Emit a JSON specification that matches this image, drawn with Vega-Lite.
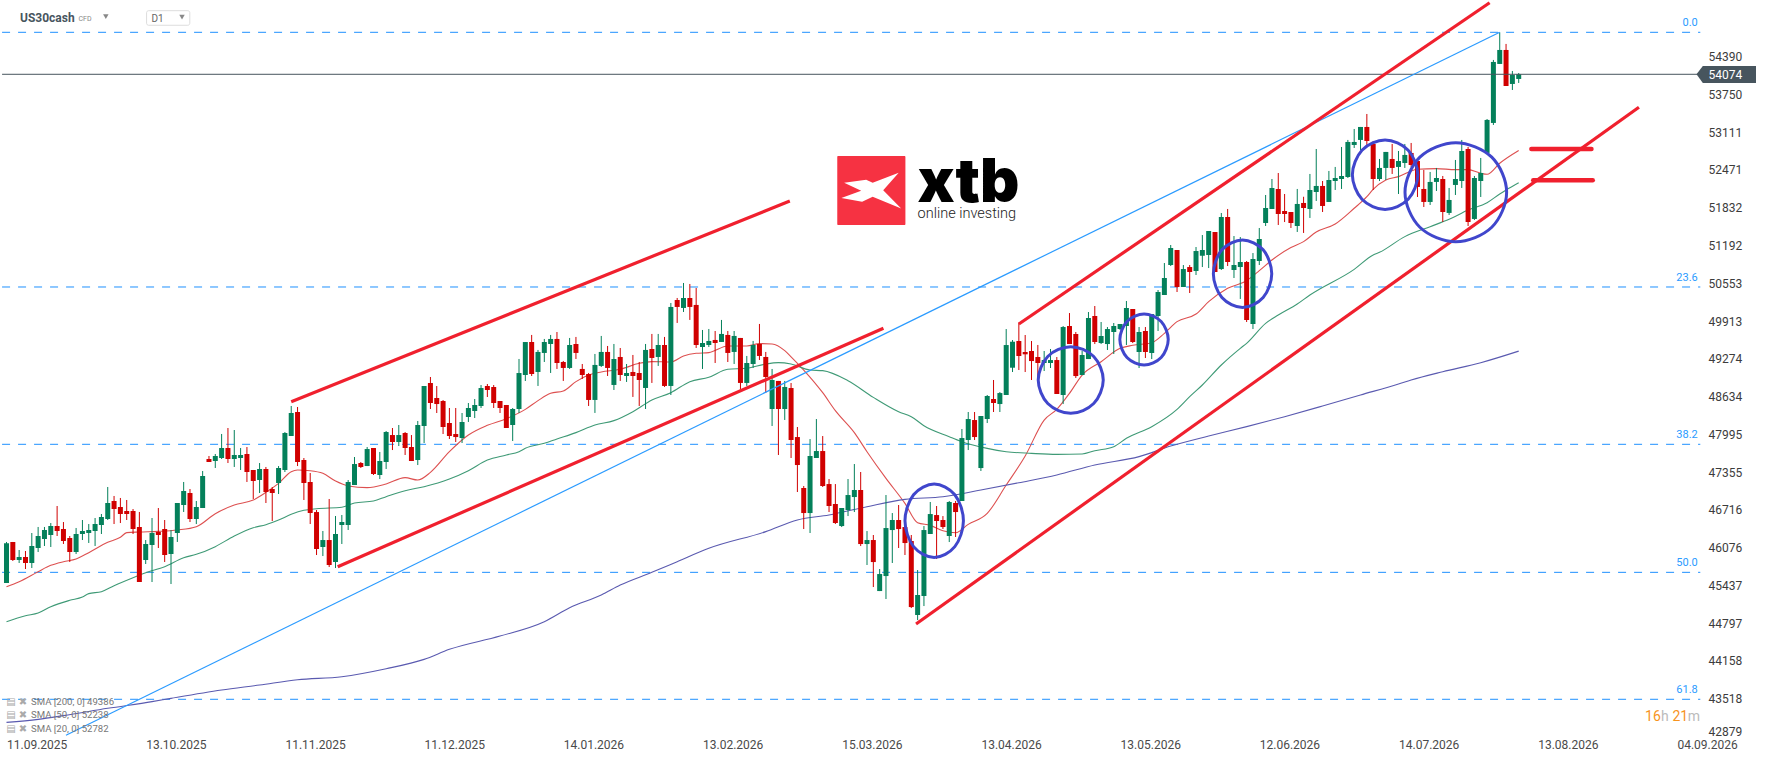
{
"$schema":"https://vega.github.io/schema/vega-lite/v6.json",
"width":1768,"height":761,"padding":0,"autosize":{"type":"none"},"background":"#ffffff",
"config":{"view":{"stroke":null},"font":"Roboto","axis":{"grid":false,"domain":false,"ticks":false,"title":null}},
"datasets":{
"candles":[
{"bar":0,"open":45459,"high":46154,"low":45459,"close":46131},{"bar":1,"open":46154,"high":46154,"low":45832,"close":45849},{"bar":2,"open":45849,"high":46018,"low":45798,"close":45900},{"bar":3,"open":45900,"high":46001,"low":45696,"close":45798},{"bar":4,"open":45798,"high":46306,"low":45713,"close":46086},{"bar":5,"open":46052,"high":46408,"low":45984,"close":46255},{"bar":6,"open":46204,"high":46408,"low":46086,"close":46357},{"bar":7,"open":46272,"high":46475,"low":46069,"close":46425},{"bar":8,"open":46425,"high":46763,"low":46255,"close":46340},{"bar":9,"open":46374,"high":46492,"low":46120,"close":46171},
{"bar":10,"open":46221,"high":46255,"low":45815,"close":45984},{"bar":11,"open":45984,"high":46391,"low":45950,"close":46289},{"bar":12,"open":46289,"high":46526,"low":46187,"close":46340},{"bar":13,"open":46306,"high":46458,"low":46137,"close":46357},{"bar":14,"open":46340,"high":46560,"low":46086,"close":46458},{"bar":15,"open":46441,"high":46628,"low":46289,"close":46577},{"bar":16,"open":46543,"high":47085,"low":46526,"close":46814},{"bar":17,"open":46848,"high":46933,"low":46458,"close":46712},{"bar":18,"open":46746,"high":46899,"low":46475,"close":46628},{"bar":19,"open":46679,"high":46865,"low":46526,"close":46628},
{"bar":20,"open":46679,"high":46712,"low":46289,"close":46374},{"bar":21,"open":46408,"high":46662,"low":45476,"close":45476},{"bar":22,"open":45849,"high":46187,"low":45781,"close":46120},{"bar":23,"open":46103,"high":46560,"low":45476,"close":46306},{"bar":24,"open":46323,"high":46729,"low":46052,"close":46272},{"bar":25,"open":46374,"high":46526,"low":45815,"close":45933},{"bar":26,"open":45950,"high":46357,"low":45442,"close":46238},{"bar":27,"open":46306,"high":46814,"low":46154,"close":46814},{"bar":28,"open":46780,"high":47170,"low":46662,"close":47017},{"bar":29,"open":46983,"high":47051,"low":46492,"close":46543},
{"bar":30,"open":46543,"high":46848,"low":46458,"close":46746},{"bar":31,"open":46729,"high":47356,"low":46729,"close":47271},{"bar":32,"open":47559,"high":47610,"low":47508,"close":47508},{"bar":33,"open":47525,"high":47644,"low":47407,"close":47610},{"bar":34,"open":47576,"high":47983,"low":47559,"close":47745},{"bar":35,"open":47745,"high":48084,"low":47491,"close":47559},{"bar":36,"open":47559,"high":48050,"low":47424,"close":47627},{"bar":37,"open":47576,"high":47745,"low":47373,"close":47627},{"bar":38,"open":47644,"high":47762,"low":47170,"close":47339},{"bar":39,"open":47373,"high":47373,"low":46882,"close":47187},
{"bar":40,"open":47204,"high":47491,"low":46983,"close":47390},{"bar":41,"open":47390,"high":47424,"low":46814,"close":47000},{"bar":42,"open":47051,"high":47085,"low":46509,"close":46983},{"bar":43,"open":47153,"high":47440,"low":46966,"close":47407},{"bar":44,"open":47373,"high":48016,"low":47339,"close":47999},{"bar":45,"open":47949,"high":48457,"low":47949,"close":48338},{"bar":46,"open":48355,"high":48440,"low":47440,"close":47508},{"bar":47,"open":47542,"high":47576,"low":46865,"close":47153},{"bar":48,"open":47170,"high":47322,"low":46458,"close":46645},{"bar":49,"open":46661,"high":46695,"low":45933,"close":46035},
{"bar":50,"open":46069,"high":46340,"low":45916,"close":46187},{"bar":51,"open":46187,"high":46882,"low":45730,"close":45764},{"bar":52,"open":45815,"high":46594,"low":45713,"close":46289},{"bar":53,"open":46441,"high":46611,"low":46120,"close":46492},{"bar":54,"open":46441,"high":47203,"low":46357,"close":47170},{"bar":55,"open":47119,"high":47593,"low":47119,"close":47474},{"bar":56,"open":47491,"high":47508,"low":47407,"close":47424},{"bar":57,"open":47440,"high":47762,"low":47440,"close":47728},{"bar":58,"open":47745,"high":47745,"low":47288,"close":47305},{"bar":59,"open":47288,"high":47678,"low":47220,"close":47525},
{"bar":60,"open":47508,"high":48033,"low":47390,"close":48016},{"bar":61,"open":47965,"high":48084,"low":47711,"close":47847},{"bar":62,"open":47847,"high":48135,"low":47779,"close":47965},{"bar":63,"open":47999,"high":48016,"low":47627,"close":47745},{"bar":64,"open":47762,"high":47965,"low":47525,"close":47525},{"bar":65,"open":47542,"high":48203,"low":47457,"close":48135},{"bar":66,"open":48118,"high":48795,"low":47830,"close":48795},{"bar":67,"open":48846,"high":48948,"low":48406,"close":48507},{"bar":68,"open":48592,"high":48795,"low":48338,"close":48490},{"bar":69,"open":48541,"high":48558,"low":47982,"close":48101},
{"bar":70,"open":48169,"high":48423,"low":47898,"close":47949},{"bar":71,"open":47982,"high":48423,"low":47847,"close":47931},{"bar":72,"open":47915,"high":48338,"low":47830,"close":48186},{"bar":73,"open":48270,"high":48507,"low":48186,"close":48423},{"bar":74,"open":48372,"high":48575,"low":48253,"close":48474},{"bar":75,"open":48457,"high":48812,"low":48423,"close":48761},{"bar":76,"open":48795,"high":48829,"low":48609,"close":48728},{"bar":77,"open":48778,"high":48812,"low":48423,"close":48507},{"bar":78,"open":48541,"high":48541,"low":48338,"close":48423},{"bar":79,"open":48474,"high":48474,"low":48084,"close":48084},
{"bar":80,"open":48135,"high":48423,"low":47864,"close":48406},{"bar":81,"open":48406,"high":49253,"low":48338,"close":49015},{"bar":82,"open":48982,"high":49540,"low":48880,"close":49540},{"bar":83,"open":49541,"high":49660,"low":48965,"close":48999},{"bar":84,"open":49033,"high":49406,"low":48796,"close":49372},{"bar":85,"open":49355,"high":49592,"low":49202,"close":49541},{"bar":86,"open":49507,"high":49660,"low":49016,"close":49592},{"bar":87,"open":49592,"high":49710,"low":49084,"close":49185},{"bar":88,"open":49202,"high":49219,"low":48881,"close":49101},{"bar":89,"open":49101,"high":49609,"low":49084,"close":49490},
{"bar":90,"open":49507,"high":49626,"low":49253,"close":49355},{"bar":91,"open":49084,"high":49168,"low":48914,"close":48982},{"bar":92,"open":48999,"high":49016,"low":48457,"close":48559},{"bar":93,"open":48559,"high":49338,"low":48339,"close":49152},{"bar":94,"open":49135,"high":49643,"low":49118,"close":49372},{"bar":95,"open":49372,"high":49473,"low":48965,"close":49101},{"bar":96,"open":48813,"high":49507,"low":48728,"close":49253},{"bar":97,"open":49287,"high":49439,"low":48881,"close":48982},{"bar":98,"open":48965,"high":49168,"low":48864,"close":49016},{"bar":99,"open":49033,"high":49321,"low":48610,"close":48965},
{"bar":100,"open":49016,"high":49202,"low":48457,"close":48897},{"bar":101,"open":48762,"high":49507,"low":48406,"close":49406},{"bar":102,"open":49422,"high":49677,"low":48847,"close":49270},{"bar":103,"open":49287,"high":49677,"low":49135,"close":49490},{"bar":104,"open":49490,"high":49626,"low":48779,"close":48796},{"bar":105,"open":48796,"high":50201,"low":48643,"close":50134},{"bar":106,"open":50252,"high":50286,"low":49863,"close":50134},{"bar":107,"open":50117,"high":50540,"low":50049,"close":50286},{"bar":108,"open":50286,"high":50523,"low":49914,"close":50134},{"bar":109,"open":50168,"high":50455,"low":49439,"close":49490},
{"bar":110,"open":49456,"high":49744,"low":49084,"close":49524},{"bar":111,"open":49490,"high":49761,"low":49456,"close":49558},{"bar":112,"open":49575,"high":49727,"low":49185,"close":49524},{"bar":113,"open":49541,"high":49914,"low":49541,"close":49677},{"bar":114,"open":49660,"high":49727,"low":49202,"close":49355},{"bar":115,"open":49372,"high":49727,"low":49168,"close":49643},{"bar":116,"open":49609,"high":49609,"low":48745,"close":48847},{"bar":117,"open":48847,"high":49304,"low":48796,"close":49185},{"bar":118,"open":49168,"high":49558,"low":49101,"close":49490},{"bar":119,"open":49507,"high":49846,"low":49236,"close":49304},
{"bar":120,"open":49287,"high":49372,"low":48677,"close":48948},{"bar":121,"open":48406,"high":49084,"low":48118,"close":48897},{"bar":122,"open":48881,"high":48881,"low":47627,"close":48406},{"bar":123,"open":48406,"high":48881,"low":48220,"close":48779},{"bar":124,"open":48761,"high":48846,"low":47576,"close":47881},{"bar":125,"open":47931,"high":48101,"low":47000,"close":47457},{"bar":126,"open":47068,"high":47102,"low":46373,"close":46644},{"bar":127,"open":46644,"high":47897,"low":46306,"close":47610},{"bar":128,"open":47576,"high":48236,"low":47576,"close":47694},{"bar":129,"open":47694,"high":47948,"low":47085,"close":47102},
{"bar":130,"open":47135,"high":47220,"low":46661,"close":46763},{"bar":131,"open":46797,"high":47135,"low":46458,"close":46475},{"bar":132,"open":46424,"high":46729,"low":46407,"close":46729},{"bar":133,"open":46695,"high":47220,"low":46593,"close":46949},{"bar":134,"open":46915,"high":47474,"low":46661,"close":47034},{"bar":135,"open":47034,"high":47339,"low":46085,"close":46119},{"bar":136,"open":46119,"high":46339,"low":45764,"close":46187},{"bar":137,"open":46187,"high":46272,"low":45391,"close":45814},{"bar":138,"open":45323,"high":45696,"low":45323,"close":45611},{"bar":139,"open":45577,"high":46949,"low":45188,"close":46390},
{"bar":140,"open":46356,"high":46644,"low":45798,"close":46526},{"bar":141,"open":46526,"high":46780,"low":46052,"close":46373},{"bar":142,"open":46407,"high":46593,"low":45933,"close":46136},{"bar":143,"open":46170,"high":46272,"low":45035,"close":45052},{"bar":144,"open":44917,"high":45679,"low":44832,"close":45256},{"bar":145,"open":45239,"high":46424,"low":45069,"close":46356},{"bar":146,"open":46289,"high":46831,"low":46289,"close":46627},{"bar":147,"open":46610,"high":46763,"low":45865,"close":46509},{"bar":148,"open":46526,"high":46593,"low":46373,"close":46407},{"bar":149,"open":46255,"high":46848,"low":46153,"close":46831},
{"bar":150,"open":46814,"high":46848,"low":46238,"close":46661},{"bar":151,"open":46848,"high":48067,"low":46848,"close":47914},{"bar":152,"open":47881,"high":48355,"low":47711,"close":48236},{"bar":153,"open":48219,"high":48355,"low":47881,"close":47931},{"bar":154,"open":47406,"high":48287,"low":47356,"close":48287},{"bar":155,"open":48236,"high":48643,"low":48168,"close":48626},{"bar":156,"open":48575,"high":48897,"low":48355,"close":48507},{"bar":157,"open":48490,"high":48693,"low":48355,"close":48676},{"bar":158,"open":48643,"high":49760,"low":48643,"close":49489},{"bar":159,"open":49105,"high":49574,"low":49032,"close":49545},
{"bar":160,"open":49557,"high":49867,"low":49066,"close":49303},{"bar":161,"open":49371,"high":49659,"low":49032,"close":49332},{"bar":162,"open":49388,"high":49557,"low":48897,"close":49218},{"bar":163,"open":49286,"high":49490,"low":48897,"close":49185},{"bar":164,"open":49185,"high":49388,"low":49049,"close":49235},{"bar":165,"open":49185,"high":49422,"low":49100,"close":49235},{"bar":166,"open":49235,"high":49286,"low":48660,"close":48660},{"bar":167,"open":48643,"high":49811,"low":48490,"close":49794},{"bar":168,"open":49811,"high":50031,"low":49506,"close":49506},{"bar":169,"open":49676,"high":49710,"low":48931,"close":48964},
{"bar":170,"open":48981,"high":49388,"low":48981,"close":49320},{"bar":171,"open":49252,"high":50048,"low":49252,"close":49947},{"bar":172,"open":49981,"high":50150,"low":49506,"close":49540},{"bar":173,"open":49523,"high":49879,"low":49506,"close":49642},{"bar":174,"open":49506,"high":49794,"low":49405,"close":49760},{"bar":175,"open":49710,"high":49862,"low":49337,"close":49811},{"bar":176,"open":49760,"high":49845,"low":49743,"close":49845},{"bar":177,"open":49811,"high":50235,"low":49489,"close":50116},{"bar":178,"open":50099,"high":50099,"low":49523,"close":49540},{"bar":179,"open":49371,"high":49794,"low":49100,"close":49710},
{"bar":180,"open":49727,"high":49794,"low":49269,"close":49371},{"bar":181,"open":49354,"high":50014,"low":49252,"close":50014},{"bar":182,"open":49981,"high":50421,"low":49727,"close":50387},{"bar":183,"open":50336,"high":50878,"low":50336,"close":50624},{"bar":184,"open":50844,"high":51183,"low":50827,"close":51132},{"bar":185,"open":51098,"high":51098,"low":50387,"close":50472},{"bar":186,"open":50472,"high":50844,"low":50472,"close":50776},{"bar":187,"open":50810,"high":50844,"low":50370,"close":50726},{"bar":188,"open":50743,"high":51149,"low":50675,"close":51081},{"bar":189,"open":51001,"high":51352,"low":50810,"close":51098},
{"bar":190,"open":51014,"high":51420,"low":50793,"close":51420},{"bar":191,"open":51403,"high":51403,"low":50726,"close":50726},{"bar":192,"open":50776,"high":51725,"low":50760,"close":51657},{"bar":193,"open":51657,"high":51793,"low":50827,"close":50895},{"bar":194,"open":50760,"high":51335,"low":50624,"close":50844},{"bar":195,"open":50810,"high":51318,"low":50269,"close":50895},{"bar":196,"open":50895,"high":50912,"low":49879,"close":49913},{"bar":197,"open":49845,"high":51047,"low":49760,"close":50946},{"bar":198,"open":50912,"high":51471,"low":50844,"close":51285},{"bar":199,"open":51556,"high":52030,"low":51505,"close":51810},
{"bar":200,"open":51793,"high":52301,"low":51793,"close":52148},{"bar":201,"open":52131,"high":52402,"low":51522,"close":51708},{"bar":202,"open":51759,"high":52047,"low":51572,"close":51708},{"bar":203,"open":51742,"high":51742,"low":51471,"close":51556},{"bar":204,"open":51505,"high":52132,"low":51404,"close":51878},{"bar":205,"open":51895,"high":52000,"low":51387,"close":51810},{"bar":206,"open":51793,"high":52386,"low":51641,"close":52115},{"bar":207,"open":52081,"high":52809,"low":51929,"close":52183},{"bar":208,"open":52183,"high":52267,"low":51742,"close":51844},{"bar":209,"open":51912,"high":52437,"low":51912,"close":52284},
{"bar":210,"open":52267,"high":52505,"low":52115,"close":52318},{"bar":211,"open":52301,"high":52843,"low":52132,"close":52352},{"bar":212,"open":52335,"high":52962,"low":52318,"close":52928},{"bar":213,"open":52877,"high":53148,"low":52826,"close":52928},{"bar":214,"open":52962,"high":53182,"low":52792,"close":53182},{"bar":215,"open":53182,"high":53402,"low":52877,"close":52945},{"bar":216,"open":52894,"high":52945,"low":52115,"close":52301},{"bar":217,"open":52301,"high":52640,"low":52267,"close":52488},{"bar":218,"open":52488,"high":52759,"low":52284,"close":52759},{"bar":219,"open":52640,"high":52894,"low":52386,"close":52488},
{"bar":220,"open":52505,"high":52775,"low":52047,"close":52606},{"bar":221,"open":52572,"high":52894,"low":52488,"close":52708},{"bar":222,"open":52742,"high":52911,"low":52505,"close":52538},{"bar":223,"open":52606,"high":52623,"low":51996,"close":52166},{"bar":224,"open":52132,"high":52454,"low":51827,"close":51912},{"bar":225,"open":51912,"high":52420,"low":51861,"close":52251},{"bar":226,"open":52251,"high":52488,"low":52098,"close":52318},{"bar":227,"open":52301,"high":52352,"low":51573,"close":51742},{"bar":228,"open":51726,"high":52149,"low":51692,"close":51946},{"bar":229,"open":52200,"high":52623,"low":52030,"close":52301},
{"bar":230,"open":52267,"high":52962,"low":52149,"close":52775},{"bar":231,"open":52809,"high":52843,"low":51505,"close":51573},{"bar":232,"open":51624,"high":52352,"low":51607,"close":52318},{"bar":233,"open":52267,"high":52657,"low":51996,"close":52403},{"bar":234,"open":52742,"high":53317,"low":52742,"close":53301},{"bar":235,"open":53250,"high":54317,"low":53216,"close":54283},{"bar":236,"open":54249,"high":54785,"low":54249,"close":54486},{"bar":237,"open":54486,"high":54588,"low":53876,"close":53876},{"bar":238,"open":53910,"high":54130,"low":53808,"close":54063},{"bar":239,"open":53995,"high":54096,"low":53927,"close":54074}
],
"sma":[
{"series":"SMA20","bar":0,"price":45397},{"series":"SMA20","bar":2,"price":45482},{"series":"SMA20","bar":5,"price":45651},{"series":"SMA20","bar":7,"price":45758},{"series":"SMA20","bar":9,"price":45820},{"series":"SMA20","bar":11,"price":45866},{"series":"SMA20","bar":13,"price":45973},{"series":"SMA20","bar":16,"price":46148},{"series":"SMA20","bar":18,"price":46233},{"series":"SMA20","bar":19,"price":46312},{"series":"SMA20","bar":21,"price":46323},{"series":"SMA20","bar":24,"price":46334},{"series":"SMA20","bar":27,"price":46357},{"series":"SMA20","bar":30,"price":46413},{"series":"SMA20","bar":33,"price":46633},{"series":"SMA20","bar":36,"price":46780},{"series":"SMA20","bar":39,"price":46865},{"series":"SMA20","bar":41,"price":46995},{"series":"SMA20","bar":43,"price":47147},{"series":"SMA20","bar":45,"price":47345},{"series":"SMA20","bar":46,"price":47373},{"series":"SMA20","bar":48,"price":47361},{"series":"SMA20","bar":50,"price":47316},{"series":"SMA20","bar":52,"price":47186},{"series":"SMA20","bar":54,"price":47102},{"series":"SMA20","bar":57,"price":47074},{"series":"SMA20","bar":60,"price":47136},{"series":"SMA20","bar":63,"price":47243},{"series":"SMA20","bar":65,"price":47203},{"series":"SMA20","bar":67,"price":47333},{"series":"SMA20","bar":70,"price":47683},{"series":"SMA20","bar":73,"price":47965},{"series":"SMA20","bar":76,"price":48129},{"series":"SMA20","bar":79,"price":48242},{"series":"SMA20","bar":82,"price":48400},{"series":"SMA20","bar":84,"price":48548},{"series":"SMA20","bar":86,"price":48672},{"series":"SMA20","bar":88,"price":48711},{"series":"SMA20","bar":90,"price":48869},{"series":"SMA20","bar":92,"price":48982},{"series":"SMA20","bar":94,"price":49033},{"series":"SMA20","bar":97,"price":49078},{"series":"SMA20","bar":100,"price":49180},{"series":"SMA20","bar":102,"price":49208},{"series":"SMA20","bar":105,"price":49202},{"series":"SMA20","bar":107,"price":49304},{"series":"SMA20","bar":109,"price":49349},{"series":"SMA20","bar":111,"price":49360},{"series":"SMA20","bar":114,"price":49473},{"series":"SMA20","bar":117,"price":49473},{"series":"SMA20","bar":119,"price":49513},{"series":"SMA20","bar":121,"price":49507},{"series":"SMA20","bar":123,"price":49394},{"series":"SMA20","bar":124,"price":49290},{"series":"SMA20","bar":126,"price":49066},{"series":"SMA20","bar":129,"price":48682},{"series":"SMA20","bar":131,"price":48377},{"series":"SMA20","bar":134,"price":48005},{"series":"SMA20","bar":136,"price":47683},{"series":"SMA20","bar":139,"price":47231},{"series":"SMA20","bar":142,"price":46808},{"series":"SMA20","bar":144,"price":46480},{"series":"SMA20","bar":146,"price":46435},{"series":"SMA20","bar":148,"price":46345},{"series":"SMA20","bar":150,"price":46311},{"series":"SMA20","bar":152,"price":46452},{"series":"SMA20","bar":155,"price":46639},{"series":"SMA20","bar":158,"price":47118},{"series":"SMA20","bar":161,"price":47610},{"series":"SMA20","bar":164,"price":48219},{"series":"SMA20","bar":166,"price":48400},{"series":"SMA20","bar":168,"price":48671},{"series":"SMA20","bar":170,"price":48981},{"series":"SMA20","bar":173,"price":49207},{"series":"SMA20","bar":176,"price":49433},{"series":"SMA20","bar":178,"price":49484},{"series":"SMA20","bar":181,"price":49529},{"series":"SMA20","bar":183,"price":49687},{"series":"SMA20","bar":185,"price":49885},{"series":"SMA20","bar":188,"price":50014},{"series":"SMA20","bar":190,"price":50223},{"series":"SMA20","bar":193,"price":50449},{"series":"SMA20","bar":196,"price":50579},{"series":"SMA20","bar":198,"price":50748},{"series":"SMA20","bar":200,"price":50929},{"series":"SMA20","bar":203,"price":51140},{"series":"SMA20","bar":205,"price":51240},{"series":"SMA20","bar":207,"price":51404},{"series":"SMA20","bar":210,"price":51539},{"series":"SMA20","bar":213,"price":51805},{"series":"SMA20","bar":215,"price":52002},{"series":"SMA20","bar":216,"price":52126},{"series":"SMA20","bar":218,"price":52284},{"series":"SMA20","bar":220,"price":52341},{"series":"SMA20","bar":223,"price":52465},{"series":"SMA20","bar":226,"price":52476},{"series":"SMA20","bar":229,"price":52459},{"series":"SMA20","bar":231,"price":52459},{"series":"SMA20","bar":233,"price":52397},{"series":"SMA20","bar":234,"price":52380},{"series":"SMA20","bar":236,"price":52567},{"series":"SMA20","bar":239,"price":52782},
{"series":"SMA50","bar":0,"price":44804},{"series":"SMA50","bar":3,"price":44906},{"series":"SMA50","bar":5,"price":44951},{"series":"SMA50","bar":7,"price":45058},{"series":"SMA50","bar":10,"price":45166},{"series":"SMA50","bar":12,"price":45222},{"series":"SMA50","bar":13,"price":45279},{"series":"SMA50","bar":15,"price":45312},{"series":"SMA50","bar":17,"price":45414},{"series":"SMA50","bar":20,"price":45550},{"series":"SMA50","bar":22,"price":45634},{"series":"SMA50","bar":25,"price":45736},{"series":"SMA50","bar":28,"price":45888},{"series":"SMA50","bar":30,"price":45945},{"series":"SMA50","bar":33,"price":46075},{"series":"SMA50","bar":36,"price":46255},{"series":"SMA50","bar":39,"price":46396},{"series":"SMA50","bar":41,"price":46447},{"series":"SMA50","bar":43,"price":46526},{"series":"SMA50","bar":45,"price":46622},{"series":"SMA50","bar":47,"price":46690},{"series":"SMA50","bar":49,"price":46718},{"series":"SMA50","bar":53,"price":46741},{"series":"SMA50","bar":55,"price":46814},{"series":"SMA50","bar":58,"price":46848},{"series":"SMA50","bar":60,"price":46921},{"series":"SMA50","bar":63,"price":47023},{"series":"SMA50","bar":66,"price":47090},{"series":"SMA50","bar":70,"price":47220},{"series":"SMA50","bar":73,"price":47361},{"series":"SMA50","bar":76,"price":47542},{"series":"SMA50","bar":79,"price":47627},{"series":"SMA50","bar":81,"price":47683},{"series":"SMA50","bar":82,"price":47740},{"series":"SMA50","bar":85,"price":47825},{"series":"SMA50","bar":87,"price":47898},{"series":"SMA50","bar":90,"price":48006},{"series":"SMA50","bar":93,"price":48135},{"series":"SMA50","bar":96,"price":48209},{"series":"SMA50","bar":99,"price":48361},{"series":"SMA50","bar":102,"price":48559},{"series":"SMA50","bar":105,"price":48683},{"series":"SMA50","bar":108,"price":48869},{"series":"SMA50","bar":111,"price":48943},{"series":"SMA50","bar":114,"price":49078},{"series":"SMA50","bar":117,"price":49095},{"series":"SMA50","bar":120,"price":49168},{"series":"SMA50","bar":122,"price":49191},{"series":"SMA50","bar":124,"price":49168},{"series":"SMA50","bar":127,"price":49066},{"series":"SMA50","bar":129,"price":49055},{"series":"SMA50","bar":133,"price":48885},{"series":"SMA50","bar":137,"price":48603},{"series":"SMA50","bar":141,"price":48360},{"series":"SMA50","bar":143,"price":48276},{"series":"SMA50","bar":145,"price":48123},{"series":"SMA50","bar":149,"price":47937},{"series":"SMA50","bar":151,"price":47852},{"series":"SMA50","bar":155,"price":47739},{"series":"SMA50","bar":158,"price":47683},{"series":"SMA50","bar":162,"price":47655},{"series":"SMA50","bar":166,"price":47638},{"series":"SMA50","bar":170,"price":47644},{"series":"SMA50","bar":172,"price":47700},{"series":"SMA50","bar":175,"price":47768},{"series":"SMA50","bar":177,"price":47909},{"series":"SMA50","bar":181,"price":48107},{"series":"SMA50","bar":185,"price":48400},{"series":"SMA50","bar":187,"price":48614},{"series":"SMA50","bar":189,"price":48812},{"series":"SMA50","bar":192,"price":49151},{"series":"SMA50","bar":195,"price":49433},{"series":"SMA50","bar":196,"price":49518},{"series":"SMA50","bar":199,"price":49856},{"series":"SMA50","bar":201,"price":49997},{"series":"SMA50","bar":204,"price":50184},{"series":"SMA50","bar":206,"price":50336},{"series":"SMA50","bar":213,"price":50771},{"series":"SMA50","bar":216,"price":51014},{"series":"SMA50","bar":217,"price":51059},{"series":"SMA50","bar":221,"price":51325},{"series":"SMA50","bar":225,"price":51494},{"series":"SMA50","bar":228,"price":51618},{"series":"SMA50","bar":231,"price":51776},{"series":"SMA50","bar":234,"price":51900},{"series":"SMA50","bar":236,"price":52047},{"series":"SMA50","bar":237,"price":52115},{"series":"SMA50","bar":239,"price":52238},
{"series":"SMA200","bar":0,"price":43099},{"series":"SMA200","bar":5,"price":43150},{"series":"SMA200","bar":9,"price":43213},{"series":"SMA200","bar":16,"price":43337},{"series":"SMA200","bar":23,"price":43450},{"series":"SMA200","bar":26,"price":43506},{"series":"SMA200","bar":34,"price":43647},{"series":"SMA200","bar":40,"price":43732},{"series":"SMA200","bar":46,"price":43822},{"series":"SMA200","bar":53,"price":43873},{"series":"SMA200","bar":60,"price":44008},{"series":"SMA200","bar":66,"price":44166},{"series":"SMA200","bar":70,"price":44336},{"series":"SMA200","bar":78,"price":44561},{"series":"SMA200","bar":85,"price":44804},{"series":"SMA200","bar":89,"price":45041},{"series":"SMA200","bar":94,"price":45256},{"series":"SMA200","bar":97,"price":45425},{"series":"SMA200","bar":102,"price":45640},{"series":"SMA200","bar":106,"price":45820},{"series":"SMA200","bar":111,"price":46046},{"series":"SMA200","bar":120,"price":46329},{"series":"SMA200","bar":125,"price":46526},{"series":"SMA200","bar":130,"price":46611},{"series":"SMA200","bar":136,"price":46752},{"series":"SMA200","bar":142,"price":46876},{"series":"SMA200","bar":148,"price":46921},{"series":"SMA200","bar":154,"price":47034},{"series":"SMA200","bar":160,"price":47158},{"series":"SMA200","bar":166,"price":47288},{"series":"SMA200","bar":172,"price":47458},{"series":"SMA200","bar":179,"price":47599},{"series":"SMA200","bar":184,"price":47779},{"series":"SMA200","bar":190,"price":47949},{"series":"SMA200","bar":196,"price":48107},{"series":"SMA200","bar":202,"price":48276},{"series":"SMA200","bar":208,"price":48457},{"series":"SMA200","bar":214,"price":48643},{"series":"SMA200","bar":220,"price":48829},{"series":"SMA200","bar":222,"price":48897},{"series":"SMA200","bar":227,"price":49038},{"series":"SMA200","bar":233,"price":49190},{"series":"SMA200","bar":239,"price":49386}
],
"fib":[{"label":"0.0","price":54785},{"label":"23.6","price":50472},{"label":"38.2","price":47808},{"label":"50.0","price":45640},{"label":"61.8","price":43490}],
"trend":[
{"line":"A","bar":45,"price":48529},{"line":"A","bar":123.8,"price":51928},
{"line":"B","bar":52.35,"price":45735},{"line":"B","bar":138.6,"price":49772},
{"line":"C","bar":143.75,"price":44764},{"line":"C","bar":258,"price":53515},
{"line":"D","bar":160,"price":49845},{"line":"D","bar":234.4,"price":55286}
],
"levels":[
{"line":"E","bar":241,"price":52809},{"line":"E","bar":250.5,"price":52809},
{"line":"F","bar":241.3,"price":52279},{"line":"F","bar":250.7,"price":52279}
],
"fibline":[{"bar":9.4,"price":42880},{"bar":236,"price":54785}],
"rings":[
{"ring":1,"seq":0,"bar":151.24,"price":46514},{"ring":1,"seq":1,"bar":149.88,"price":46953},{"ring":1,"seq":2,"bar":146.62,"price":47136},{"ring":1,"seq":3,"bar":143.36,"price":46953},{"ring":1,"seq":4,"bar":142.0,"price":46514},{"ring":1,"seq":5,"bar":143.36,"price":46075},{"ring":1,"seq":6,"bar":146.62,"price":45893},{"ring":1,"seq":7,"bar":149.88,"price":46075},
{"ring":2,"seq":0,"bar":173.34,"price":48897},{"ring":2,"seq":1,"bar":171.83,"price":49296},{"ring":2,"seq":2,"bar":168.2,"price":49461},{"ring":2,"seq":3,"bar":164.57,"price":49296},{"ring":2,"seq":4,"bar":163.06,"price":48897},{"ring":2,"seq":5,"bar":164.57,"price":48498},{"ring":2,"seq":6,"bar":168.2,"price":48333},{"ring":2,"seq":7,"bar":171.83,"price":48498},
{"ring":3,"seq":0,"bar":183.61,"price":49583},{"ring":3,"seq":1,"bar":182.49,"price":49888},{"ring":3,"seq":2,"bar":179.79,"price":50015},{"ring":3,"seq":3,"bar":177.09,"price":49888},{"ring":3,"seq":4,"bar":175.96,"price":49583},{"ring":3,"seq":5,"bar":177.09,"price":49278},{"ring":3,"seq":6,"bar":179.79,"price":49151},{"ring":3,"seq":7,"bar":182.49,"price":49278},
{"ring":4,"seq":0,"bar":199.97,"price":50697},{"ring":4,"seq":1,"bar":198.61,"price":51101},{"ring":4,"seq":2,"bar":195.35,"price":51268},{"ring":4,"seq":3,"bar":192.09,"price":51101},{"ring":4,"seq":4,"bar":190.74,"price":50697},{"ring":4,"seq":5,"bar":192.09,"price":50293},{"ring":4,"seq":6,"bar":195.35,"price":50126},{"ring":4,"seq":7,"bar":198.61,"price":50293},
{"ring":5,"seq":0,"bar":223.05,"price":52373},{"ring":5,"seq":1,"bar":221.53,"price":52788},{"ring":5,"seq":2,"bar":217.88,"price":52961},{"ring":5,"seq":3,"bar":214.23,"price":52788},{"ring":5,"seq":4,"bar":212.71,"price":52373},{"ring":5,"seq":5,"bar":214.23,"price":51958},{"ring":5,"seq":6,"bar":217.88,"price":51785},{"ring":5,"seq":7,"bar":221.53,"price":51958},
{"ring":6,"seq":0,"bar":237.09,"price":52077},{"ring":6,"seq":1,"bar":234.74,"price":52670},{"ring":6,"seq":2,"bar":229.06,"price":52915},{"ring":6,"seq":3,"bar":223.38,"price":52670},{"ring":6,"seq":4,"bar":221.03,"price":52077},{"ring":6,"seq":5,"bar":223.38,"price":51484},{"ring":6,"seq":6,"bar":229.06,"price":51239},{"ring":6,"seq":7,"bar":234.74,"price":51484}
],
"tag":[{"bar":267.1,"top":54074,"bottom":54074},{"bar":268.1,"top":54214,"bottom":53926},{"bar":276.5,"top":54214,"bottom":53926}]
},
"layer":[
{"data":{"name":"fib"},"mark":{"type":"rule","color":"#1e90ff","strokeWidth":1,"strokeDash":[8,8]},
 "encoding":{
  "x":{"datum":-0.7,"type":"quantitative","scale":{"domain":[-1.027,278.4],"nice":false,"zero":false,"padding":0},
   "axis":{"orient":"bottom","offset":-17,"values":[0,22,44,66,88,110,132,154,176,198,220,242,264],"labelExpr":"['11.09.2025','13.10.2025','11.11.2025','11.12.2025','14.01.2026','13.02.2026','15.03.2026','13.04.2026','13.05.2026','12.06.2026','14.07.2026','13.08.2026','04.09.2026'][datum.value/22]","labelAlign":"left","labelBaseline":"middle","labelPadding":0,"labelFontSize":12,"labelColor":"#4a4a4a","labelFlush":false,"labelOverlap":false,"labelBound":false,"tickSize":0}},
  "x2":{"datum":267.7},
  "y":{"field":"price","type":"quantitative","scale":{"domain":[42445,55332],"nice":false,"zero":false},
   "axis":{"orient":"right","offset":-60,"values":[54390,53750,53111,52471,51832,51192,50553,49913,49274,48634,47995,47355,46716,46076,45437,44797,44158,43518,42879],"format":"d","labelAlign":"left","labelPadding":0,"labelFontSize":12,"labelColor":"#3c3c3c","labelFlush":false,"labelOverlap":false,"labelBound":false,"tickSize":0,"labelOffset":{"condition":{"test":"datum.value===42879","value":-3.7},"value":1}}}
 }},
{"data":{"name":"fib"},"mark":{"type":"text","font":"Roboto","fontSize":11,"color":"#2b9bff","align":"right","baseline":"middle","dy":-9},
 "encoding":{"x":{"datum":267.3,"type":"quantitative"},"y":{"field":"price","type":"quantitative"},"text":{"field":"label"}}},
{"data":{"name":"sma"},"mark":{"type":"line","strokeWidth":1.1,"interpolate":"monotone"},
 "encoding":{"x":{"field":"bar","type":"quantitative"},"y":{"field":"price","type":"quantitative"},
  "color":{"field":"series","type":"nominal","legend":null,"scale":{"domain":["SMA20","SMA50","SMA200"],"range":["#dd5050","#3f9a76","#5a5ab0"]}}}},
{"data":{"name":"candles"},"mark":{"type":"rule","strokeWidth":1},
 "encoding":{"x":{"field":"bar","type":"quantitative"},"y":{"field":"high","type":"quantitative"},"y2":{"field":"low"},
  "color":{"condition":{"test":"datum.close>=datum.open","value":"#04805a"},"value":"#d00000"}}},
{"data":{"name":"candles"},"mark":{"type":"bar","size":5},
 "encoding":{"x":{"field":"bar","type":"quantitative"},"y":{"field":"open","type":"quantitative"},"y2":{"field":"close"},
  "color":{"condition":{"test":"datum.close>=datum.open","value":"#04805a"},"value":"#d00000"}}},
{"data":{"values":[{"price":54074}]},"mark":{"type":"rule","color":"#47555e","strokeWidth":1},
 "encoding":{"x":{"datum":-0.7,"type":"quantitative"},"x2":{"datum":267.5},"y":{"field":"price","type":"quantitative"}}},
{"data":{"name":"fibline"},"mark":{"type":"line","color":"#2b9bff","strokeWidth":1.2},
 "encoding":{"x":{"field":"bar","type":"quantitative"},"y":{"field":"price","type":"quantitative"}}},
{"data":{"name":"trend"},"mark":{"type":"line","color":"#f0202e","strokeWidth":3.2},
 "encoding":{"x":{"field":"bar","type":"quantitative"},"y":{"field":"price","type":"quantitative"},"detail":{"field":"line"}}},
{"data":{"name":"levels"},"mark":{"type":"line","color":"#f0202e","strokeWidth":4.5,"strokeCap":"round"},
 "encoding":{"x":{"field":"bar","type":"quantitative"},"y":{"field":"price","type":"quantitative"},"detail":{"field":"line"}}},
{"data":{"name":"rings"},"mark":{"type":"line","color":"#4046cc","strokeWidth":3,"interpolate":"cardinal-closed"},
 "encoding":{"x":{"field":"bar","type":"quantitative"},"y":{"field":"price","type":"quantitative"},"detail":{"field":"ring"},"order":{"field":"seq"}}},
{"data":{"name":"tag"},"mark":{"type":"area","color":"#47555e","orient":"vertical"},
 "encoding":{"x":{"field":"bar","type":"quantitative"},"y":{"field":"top","type":"quantitative"},"y2":{"field":"bottom"}}},
{"data":{"values":[{"bar":268.99,"price":54074,"text":"54074"}]},"mark":{"type":"text","font":"Roboto","fontSize":12,"color":"#ffffff","align":"left","baseline":"middle","dy":1},
 "encoding":{"x":{"field":"bar","type":"quantitative"},"y":{"field":"price","type":"quantitative"},"text":{"field":"text"}}},
{"data":{"values":[{"bar":131.3,"bar2":142.07,"top":52690,"bottom":51522}]},"mark":{"type":"rect","color":"#f63242","cornerRadius":1},
 "encoding":{"x":{"field":"bar","type":"quantitative"},"x2":{"field":"bar2"},"y":{"field":"top","type":"quantitative"},"y2":{"field":"bottom"}}},
{"data":{"values":[{"bar":136.7,"price":52106}]},"mark":{"type":"point","filled":true,"opacity":1,"color":"#ffffff","size":3844,"shape":"M-0.88 -0.25 L-0.17 -0.35 L0.04 -0.25 L0.88 -0.57 L0.38 -0.01 L0.96 0.58 L0.04 0.20 L-0.30 0.36 L-0.97 0.24 L-0.33 0.01 Z"},
 "encoding":{"x":{"field":"bar","type":"quantitative"},"y":{"field":"price","type":"quantitative"}}},
{"data":{"values":[{"bar":144,"price":51911,"text":"xtb"}]},"mark":{"type":"text","font":"Inter","fontWeight":900,"fontSize":61,"color":"#000000","align":"left","baseline":"alphabetic"},
 "encoding":{"x":{"field":"bar","type":"quantitative"},"y":{"field":"price","type":"quantitative"},"text":{"field":"text"}}},
{"data":{"values":[{"bar":144,"price":51640,"text":"online investing"}]},"mark":{"type":"text","font":"Roboto","fontWeight":300,"fontSize":14.5,"color":"#222222","align":"left","baseline":"alphabetic"},
 "encoding":{"x":{"field":"bar","type":"quantitative"},"y":{"field":"price","type":"quantitative"},"text":{"field":"text"}}},
{"data":{"values":[{"bar":2.13,"price":55027,"text":"US30cash"}]},"mark":{"type":"text","font":"Roboto","fontWeight":700,"fontSize":12,"color":"#47555e","align":"left","baseline":"middle"},
 "encoding":{"x":{"field":"bar","type":"quantitative"},"y":{"field":"price","type":"quantitative"},"text":{"field":"text"}}},
{"data":{"values":[{"bar":11.38,"price":55010,"text":"CFD"}]},"mark":{"type":"text","font":"Roboto","fontSize":7,"color":"#888888","align":"left","baseline":"middle"},
 "encoding":{"x":{"field":"bar","type":"quantitative"},"y":{"field":"price","type":"quantitative"},"text":{"field":"text"}}},
{"data":{"values":[{"bar":22.14,"bar2":28.97,"top":55151,"bottom":54904}]},"mark":{"type":"rect","fill":"#ffffff","stroke":"#dddddd","cornerRadius":2},
 "encoding":{"x":{"field":"bar","type":"quantitative"},"x2":{"field":"bar2"},"y":{"field":"top","type":"quantitative"},"y2":{"field":"bottom"}}},
{"data":{"values":[{"bar":22.92,"price":55002,"text":"D1"}]},"mark":{"type":"text","font":"Roboto","fontSize":10,"color":"#666666","align":"left","baseline":"middle"},
 "encoding":{"x":{"field":"bar","type":"quantitative"},"y":{"field":"price","type":"quantitative"},"text":{"field":"text"}}},
{"data":{"values":[{"bar":15.7,"price":55049},{"bar":27.74,"price":55044}]},"mark":{"type":"point","filled":true,"opacity":1,"shape":"triangle-down","size":30,"color":"#888888"},
 "encoding":{"x":{"field":"bar","type":"quantitative"},"y":{"field":"price","type":"quantitative"}}},
{"data":{"values":[{"bar":3.87,"price":43449,"text":"SMA [200, 0] 49386"},{"bar":3.87,"price":43218,"text":"SMA [50, 0] 52238"},{"bar":3.87,"price":42981,"text":"SMA [20, 0] 52782"}]},"mark":{"type":"text","font":"Roboto","fontSize":9.6,"color":"#777777","align":"left","baseline":"middle"},
 "encoding":{"x":{"field":"bar","type":"quantitative"},"y":{"field":"price","type":"quantitative"},"text":{"field":"text"}}},
{"data":{"values":[{"bar":0.71,"price":43449,"text":"▤"},{"bar":0.71,"price":43218,"text":"▤"},{"bar":0.71,"price":42981,"text":"▤"},{"bar":2.6,"price":43449,"text":"✖"},{"bar":2.6,"price":43218,"text":"✖"},{"bar":2.6,"price":42981,"text":"✖"}]},"mark":{"type":"text","font":"DejaVu Sans","fontSize":10,"color":"#aaaaaa","align":"center","baseline":"middle"},
 "encoding":{"x":{"field":"bar","type":"quantitative"},"y":{"field":"price","type":"quantitative"},"text":{"field":"text"}}},
{"data":{"values":[{"bar":258.97,"price":43195,"text":"16"},{"bar":263.3,"price":43195,"text":"21"}]},"mark":{"type":"text","font":"Roboto","fontSize":14,"color":"#f7931e","align":"left","baseline":"middle"},
 "encoding":{"x":{"field":"bar","type":"quantitative"},"y":{"field":"price","type":"quantitative"},"text":{"field":"text"}}},
{"data":{"values":[{"bar":261.5,"price":43195,"text":"h"},{"bar":265.7,"price":43195,"text":"m"}]},"mark":{"type":"text","font":"Roboto","fontSize":14,"color":"#bbbbbb","align":"left","baseline":"middle"},
 "encoding":{"x":{"field":"bar","type":"quantitative"},"y":{"field":"price","type":"quantitative"},"text":{"field":"text"}}}
]
}
